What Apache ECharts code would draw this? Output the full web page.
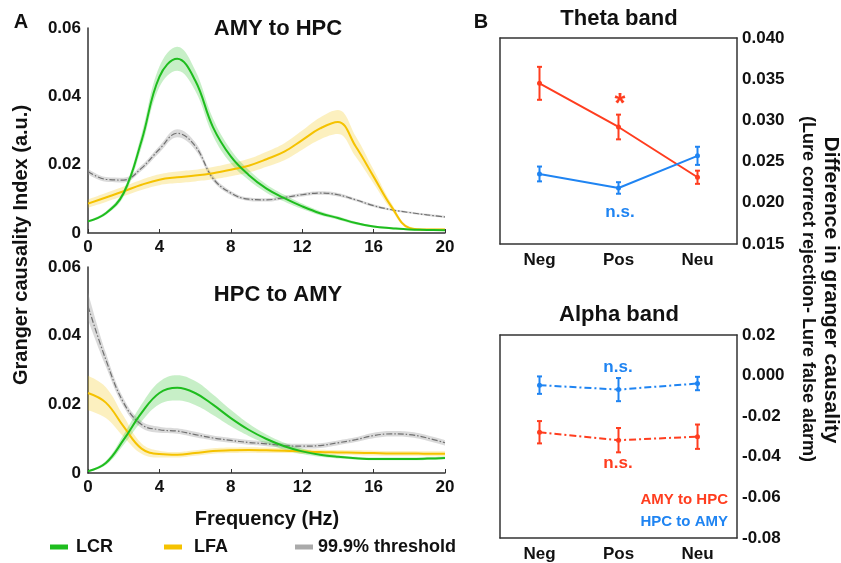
<!DOCTYPE html>
<html>
<head>
<meta charset="utf-8">
<script src="https://cdn.jsdelivr.net/npm/echarts@6/dist/echarts.min.js"></script>
<style>
html,body{margin:0;padding:0;background:#fff;}
#main{width:841px;height:563px;}
</style>
</head>
<body>
<div id="main"></div>
<script>
// frequency (Hz)
var freq = [0,1,2,3,4,5,6,7,8,9,10,11,12,13,14,15,16,17,18,19,20];

// A: AMY to HPC
var lcrTop    = [0.0034,0.0058,0.0117,0.0270,0.0457,0.0510,0.0447,0.0310,0.0224,0.0170,0.0130,0.0102,0.0078,0.0058,0.0044,0.0029,0.0019,0.0014,0.0010,0.0009,0.0008];
var lcrTopErr = [0.0003,0.0005,0.0010,0.0020,0.0030,0.0035,0.0030,0.0025,0.0020,0.0015,0.0012,0.0010,0.0008,0.0006,0.0005,0.0004,0.0003,0.0003,0.0002,0.0002,0.0002];
var lfaTop    = [0.0086,0.0104,0.0122,0.0141,0.0156,0.0163,0.0168,0.0175,0.0185,0.0197,0.0216,0.0238,0.0272,0.0306,0.0325,0.0253,0.0165,0.0077,0.0015,0.0010,0.0010];
var lfaTopErr = [0.0012,0.0013,0.0014,0.0015,0.0016,0.0017,0.0017,0.0018,0.0019,0.0020,0.0022,0.0025,0.0028,0.0032,0.0035,0.0030,0.0020,0.0010,0.0004,0.0003,0.0003];
var thrTop    = [0.0180,0.0157,0.0155,0.0190,0.0245,0.0292,0.0255,0.0160,0.0117,0.0099,0.0097,0.0104,0.0112,0.0117,0.0112,0.0097,0.0080,0.0068,0.0060,0.0053,0.0047];
var thrTopErr = [0.0008,0.0007,0.0007,0.0008,0.0010,0.0012,0.0011,0.0008,0.0006,0.0005,0.0005,0.0005,0.0005,0.0005,0.0005,0.0004,0.0004,0.0003,0.0003,0.0003,0.0003];

// A: HPC to AMY
var lcrBot    = [0.0005,0.0029,0.0097,0.0175,0.0233,0.0248,0.0233,0.0199,0.0160,0.0126,0.0099,0.0078,0.0063,0.0053,0.0047,0.0043,0.0041,0.0041,0.0041,0.0042,0.0044];
var lcrBotErr = [0.0002,0.0006,0.0015,0.0025,0.0033,0.0037,0.0035,0.0030,0.0024,0.0018,0.0013,0.0010,0.0008,0.0006,0.0005,0.0004,0.0004,0.0004,0.0004,0.0004,0.0004];
var lfaBot    = [0.0233,0.0205,0.0135,0.0071,0.0055,0.0053,0.0058,0.0064,0.0066,0.0067,0.0066,0.0065,0.0063,0.0061,0.0060,0.0059,0.0058,0.0057,0.0057,0.0056,0.0056];
var lfaBotErr = [0.0050,0.0045,0.0030,0.0015,0.0010,0.0008,0.0008,0.0008,0.0008,0.0008,0.0008,0.0007,0.0007,0.0007,0.0007,0.0007,0.0007,0.0007,0.0007,0.0007,0.0007];
var thrBot    = [0.0486,0.0330,0.0204,0.0141,0.0126,0.0122,0.0112,0.0102,0.0095,0.0089,0.0085,0.0080,0.0078,0.0080,0.0088,0.0097,0.0109,0.0114,0.0112,0.0102,0.0088];
var thrBotErr = [0.0040,0.0020,0.0012,0.0010,0.0009,0.0008,0.0008,0.0007,0.0007,0.0007,0.0007,0.0007,0.0007,0.0007,0.0007,0.0007,0.0008,0.0008,0.0008,0.0008,0.0008];

// B: conditions
var conds = ['Neg', 'Pos', 'Neu'];
var thetaAmyHpc    = [0.0345, 0.0292, 0.0231];
var thetaAmyHpcErr = [0.0020, 0.0015, 0.0008];
var thetaHpcAmy    = [0.0235, 0.0218, 0.0257];
var thetaHpcAmyErr = [0.0009, 0.0007, 0.0011];
var alphaAmyHpc    = [-0.0279, -0.0318, -0.0301];
var alphaAmyHpcErr = [0.0055, 0.0060, 0.0060];
var alphaHpcAmy    = [-0.0047, -0.0069, -0.0039];
var alphaHpcAmyErr = [0.0043, 0.0057, 0.0033];

// tick labels
var gcTicks = ['0', '0.02', '0.04', '0.06'];
var thetaTicks = ['0.015', '0.020', '0.025', '0.030', '0.035', '0.040'];
var alphaTicks = ['-0.08', '-0.06', '-0.04', '-0.02', '0.000', '0.02'];

var FF = '"Liberation Sans", Arial, Helvetica, sans-serif';
var GREEN = '#1ebd1e', YELLOW = '#f5c200', GRAY = '#707070';
var RED = '#ff3d1f', BLUE = '#1f84f2';

var chart = echarts.init(document.getElementById('main'));

// shaded band = invisible lower line + stacked width with area
function bandSeries(id, gi, vals, errs, fill) {
  return [{
    type: 'line', xAxisIndex: gi, yAxisIndex: gi, stack: id, smooth: 0.4,
    showSymbol: false, silent: true, lineStyle: { opacity: 0 },
    data: vals.map(function (v, i) { return v - errs[i]; })
  }, {
    type: 'line', xAxisIndex: gi, yAxisIndex: gi, stack: id, smooth: 0.4,
    showSymbol: false, silent: true, lineStyle: { opacity: 0 },
    areaStyle: { color: fill, opacity: 1 },
    data: errs.map(function (e) { return 2 * e; })
  }];
}

function curve(name, gi, vals, color, dashed) {
  return {
    name: name, type: 'line', xAxisIndex: gi, yAxisIndex: gi, smooth: 0.4,
    showSymbol: false, color: color,
    lineStyle: dashed ? { color: color, width: 1.2, type: [6, 2, 1.5, 2] } : { color: color, width: 2 },
    data: vals, z: 3
  };
}

function errRender(params, api) {
  var x = api.value(0), y = api.value(1), e = api.value(2);
  var hi = api.coord([x, y + e]), lo = api.coord([x, y - e]);
  var c = 2.5;
  var st = { stroke: api.visual('color'), lineWidth: 2 };
  return {
    type: 'group', children: [
      { type: 'line', shape: { x1: hi[0], y1: hi[1], x2: lo[0], y2: lo[1] }, style: st },
      { type: 'line', shape: { x1: hi[0] - c, y1: hi[1], x2: hi[0] + c, y2: hi[1] }, style: st },
      { type: 'line', shape: { x1: lo[0] - c, y1: lo[1], x2: lo[0] + c, y2: lo[1] }, style: st }
    ]
  };
}

function condSeries(ax, vals, errs, color, dashed) {
  return [{
    type: 'line', xAxisIndex: ax, yAxisIndex: ax, color: color,
    symbol: 'circle', symbolSize: 5, itemStyle: { color: color },
    lineStyle: { color: color, width: 2, type: dashed ? [7, 3, 2, 3] : 'solid' },
    data: vals
  }, {
    type: 'custom', xAxisIndex: ax, yAxisIndex: ax, color: color,
    renderItem: errRender, encode: { x: 0, y: 1 },
    data: vals.map(function (v, i) { return [i, v, errs[i]]; })
  }];
}

var axisLn = { show: true, onZero: false, lineStyle: { color: '#333', width: 1.5 } };
var lblFont = { fontFamily: FF, fontWeight: 'bold', fontSize: 17, color: '#111' };

function freqAxis(gi) {
  return {
    type: 'category', gridIndex: gi, data: freq, boundaryGap: false,
    axisLine: axisLn, splitLine: { show: false },
    axisTick: { inside: true, length: 4, interval: 3, lineStyle: { color: '#333' } },
    axisLabel: Object.assign({ margin: 6, interval: 3 }, lblFont)
  };
}
function gcAxis(gi) {
  return {
    type: 'value', gridIndex: gi, min: 0, max: 0.06, interval: 0.02,
    axisLine: axisLn, splitLine: { show: false },
    axisTick: { inside: true, length: 4, lineStyle: { color: '#333' } },
    axisLabel: Object.assign({ margin: 7, formatter: function (v, i) { return gcTicks[i]; } }, lblFont)
  };
}
function condAxis(gi, pos) {
  return {
    type: 'category', gridIndex: gi, data: conds, position: pos, boundaryGap: true,
    axisLine: axisLn, splitLine: { show: false },
    axisTick: { inside: true, alignWithLabel: true, length: 4, lineStyle: { color: '#333' } },
    axisLabel: Object.assign({ show: pos === 'bottom', margin: 8 }, lblFont)
  };
}
function bandAxis(gi, pos, min, max, step, ticks) {
  return {
    type: 'value', gridIndex: gi, position: pos, min: min, max: max, interval: step,
    axisLine: axisLn, splitLine: { show: false },
    axisTick: { inside: true, length: 4, lineStyle: { color: '#333' } },
    axisLabel: Object.assign({ show: pos === 'right', margin: 5, formatter: function (v, i) { return ticks[i]; } }, lblFont)
  };
}

function txt(x, y, s, size, color, rot, weight) {
  return {
    type: 'text', x: x, y: y, rotation: rot || 0, silent: true,
    style: {
      text: s, fill: color || '#111', textAlign: 'center', textVerticalAlign: 'middle',
      font: (weight || 'bold') + ' ' + size + 'px ' + FF
    }
  };
}

function legendAt(name, left, color, gap) {
  return {
    data: [{ name: name, itemStyle: { color: color } }],
    left: left, top: 538, icon: 'rect', itemWidth: 18, itemHeight: 5, padding: 0,
    selectedMode: false,
    textStyle: { fontFamily: FF, fontWeight: 'bold', fontSize: 18, color: '#111', padding: [0, 0, 0, gap] }
  };
}

var series = [].concat(
  bandSeries('thrTop', 0, thrTop, thrTopErr, 'rgba(150,150,150,0.35)'),
  bandSeries('lfaTop', 0, lfaTop, lfaTopErr, 'rgba(245,196,0,0.25)'),
  bandSeries('lcrTop', 0, lcrTop, lcrTopErr, 'rgba(30,192,30,0.25)'),
  bandSeries('thrBot', 1, thrBot, thrBotErr, 'rgba(150,150,150,0.35)'),
  bandSeries('lfaBot', 1, lfaBot, lfaBotErr, 'rgba(245,196,0,0.25)'),
  bandSeries('lcrBot', 1, lcrBot, lcrBotErr, 'rgba(30,192,30,0.25)'),
  [
    curve('99.9% threshold', 0, thrTop, GRAY, true),
    curve('LFA', 0, lfaTop, YELLOW),
    curve('LCR', 0, lcrTop, GREEN),
    curve('99.9% threshold', 1, thrBot, GRAY, true),
    curve('LFA', 1, lfaBot, YELLOW),
    curve('LCR', 1, lcrBot, GREEN)
  ],
  condSeries(2, thetaAmyHpc, thetaAmyHpcErr, RED, false),
  condSeries(2, thetaHpcAmy, thetaHpcAmyErr, BLUE, false),
  condSeries(4, alphaAmyHpc, alphaAmyHpcErr, RED, true),
  condSeries(4, alphaHpcAmy, alphaHpcAmyErr, BLUE, true)
);

var option = {
  backgroundColor: '#fff',
  animation: false,
  grid: [
    { left: 88, top: 28, width: 357, height: 205 },
    { left: 88, top: 267, width: 357, height: 206 },
    { left: 500, top: 38, width: 237, height: 206 },
    { left: 500, top: 335, width: 237, height: 204 }
  ],
  xAxis: [
    freqAxis(0), freqAxis(1),
    condAxis(2, 'bottom'), condAxis(2, 'top'),
    condAxis(3, 'bottom'), condAxis(3, 'top')
  ],
  yAxis: [
    gcAxis(0), gcAxis(1),
    bandAxis(2, 'right', 0.015, 0.040, 0.005, thetaTicks), bandAxis(2, 'left', 0.015, 0.040, 0.005, thetaTicks),
    bandAxis(3, 'right', -0.08, 0.02, 0.02, alphaTicks), bandAxis(3, 'left', -0.08, 0.02, 0.02, alphaTicks)
  ],
  legend: [
    legendAt('LCR', 50, GREEN, 3),
    legendAt('LFA', 164, YELLOW, 7),
    legendAt('99.9% threshold', 295, '#aaaaaa', 0)
  ],
  graphic: [
    txt(21, 22, 'A', 20),
    txt(481, 22, 'B', 20),
    txt(278, 29, 'AMY to HPC', 22),
    txt(278, 295, 'HPC to AMY', 22),
    txt(619, 19, 'Theta band', 22),
    txt(619, 315, 'Alpha band', 22),
    txt(267, 519, 'Frequency (Hz)', 20),
    txt(21, 245, 'Granger causality Index (a.u.)', 20, '#111', Math.PI / 2),
    txt(831, 290, 'Difference in granger causality', 21, '#111', -Math.PI / 2),
    txt(808, 289, '(Lure correct rejection- Lure false alarm)', 18, '#111', -Math.PI / 2),
    txt(620, 104, '*', 28, RED),
    txt(620, 212, 'n.s.', 17, BLUE),
    txt(618, 367, 'n.s.', 17, BLUE),
    txt(618, 463, 'n.s.', 17, RED),
    { type: 'text', x: 728, y: 500, silent: true, style: { text: 'AMY to HPC', fill: RED, textAlign: 'right', textVerticalAlign: 'middle', font: 'bold 15px ' + FF } },
    { type: 'text', x: 728, y: 522, silent: true, style: { text: 'HPC to AMY', fill: BLUE, textAlign: 'right', textVerticalAlign: 'middle', font: 'bold 15px ' + FF } }
  ],
  series: series
};

chart.setOption(option);
</script>
</body>
</html>
